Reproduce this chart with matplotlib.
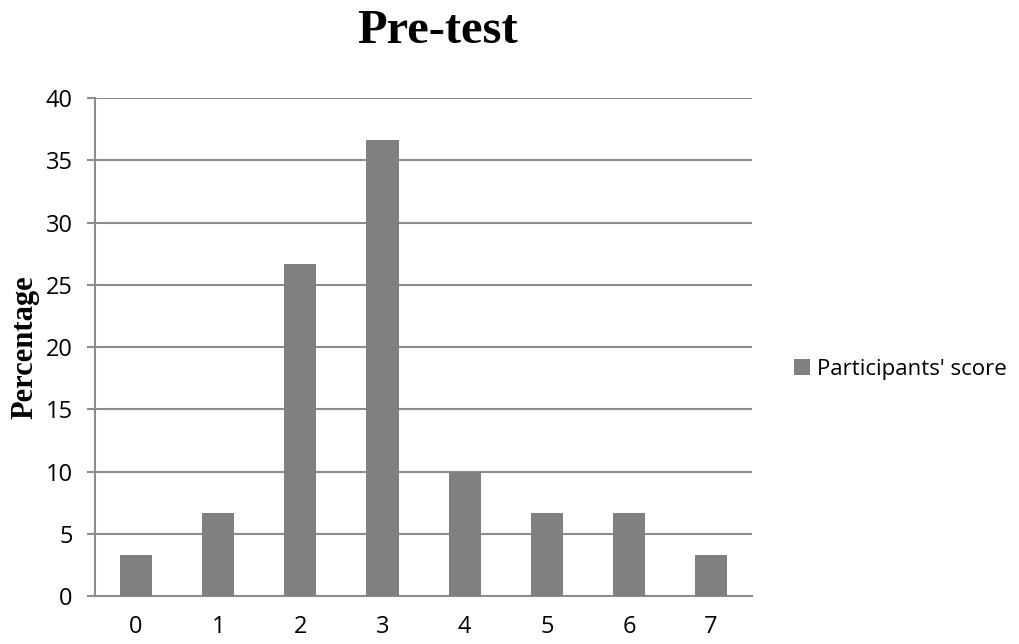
import matplotlib.pyplot as plt
import numpy as np

# scores and share of participants (%)
scores = ['0', '1', '2', '3', '4', '5', '6', '7']
percent = [3.33, 6.67, 26.67, 36.67, 10.0, 6.67, 6.67, 3.33]
yticks = [0, 5, 10, 15, 20, 25, 30, 35, 40]

bar_col = '#808080'
line_col = '#8c8c8c'

fig = plt.figure(figsize=(10.19, 6.44), dpi=100)
ax = fig.add_axes([0.0932, 0.0745, 0.645, 0.773])

x = np.arange(len(scores))
ax.bar(x, percent, width=0.39, color=bar_col, label="Participants' score", zorder=3)

ax.set_xlim(-0.5, len(scores) - 0.5)
ax.set_ylim(0, 40)
ax.set_yticks(yticks)
ax.set_xticks(x)
ax.set_xticklabels(scores)

ax.yaxis.grid(True, color=line_col, linewidth=1.5, zorder=0)
for s in ['top', 'right']:
    ax.spines[s].set_visible(False)
for s in ['left', 'bottom']:
    ax.spines[s].set_color(line_col)
    ax.spines[s].set_linewidth(1.5)
ax.tick_params(axis='y', length=6, width=1.5, color=line_col, pad=10)
ax.tick_params(axis='x', length=0, pad=14)
for lab in ax.get_xticklabels() + ax.get_yticklabels():
    lab.set_fontfamily('Open Sans')
    lab.set_fontsize(17)

ax.set_ylabel('Percentage', fontfamily='Liberation Serif', fontweight='bold',
              fontsize=22)
ax.yaxis.set_label_coords(-0.085, 0.5)

fig.text(0.429, 0.933, 'Pre-test', fontfamily='Liberation Serif', fontweight='bold',
         fontsize=35, ha='center', va='baseline')

ax.legend(loc='center left', bbox_to_anchor=(1.033, 0.455), frameon=False,
          prop={'family': 'Open Sans', 'size': 16}, handlelength=0.72,
          handleheight=0.72, handletextpad=0.3)

fig.savefig('out.png', dpi=100)
